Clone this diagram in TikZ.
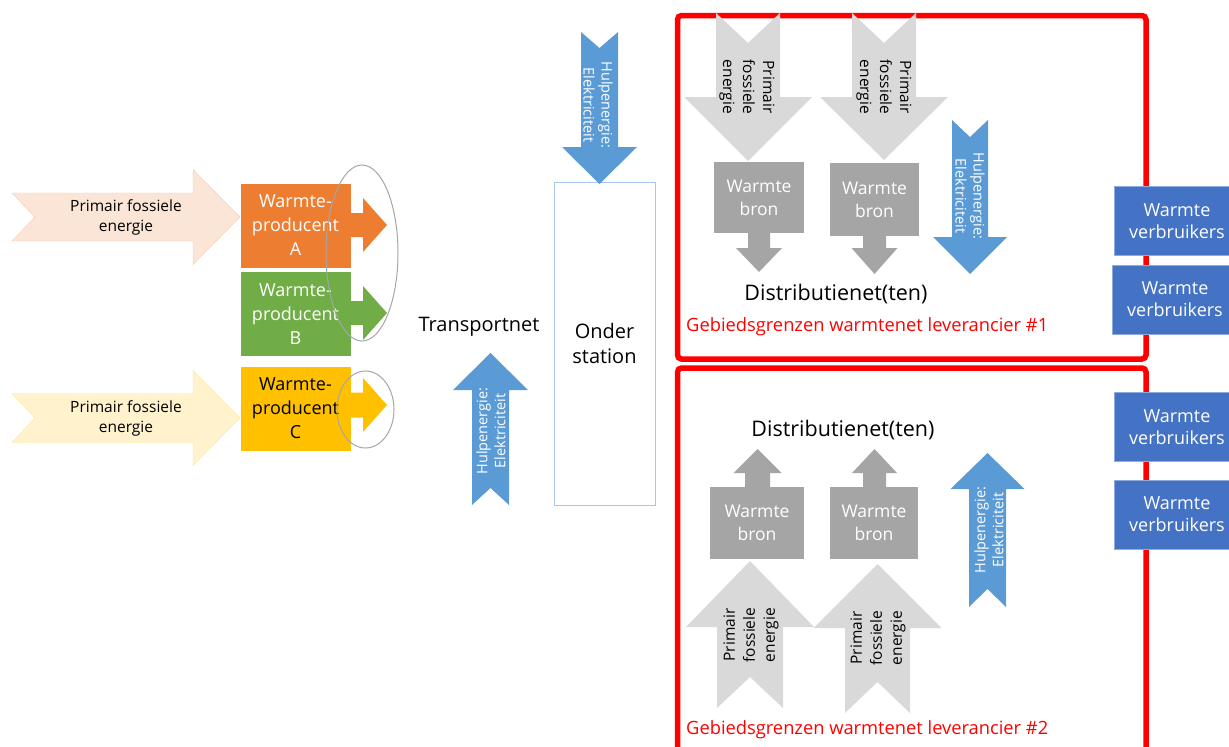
\documentclass[tikz,border=0pt]{standalone}
\usepackage{fontspec}
\setmainfont{Open Sans}
\usetikzlibrary{positioning}

\definecolor{peach}{HTML}{FBE5D6}
\definecolor{peachedge}{HTML}{F8CBAD}
\definecolor{cream}{HTML}{FFF2CC}
\definecolor{creamedge}{HTML}{FFE699}
\definecolor{prodA}{HTML}{ED7D31}
\definecolor{prodB}{HTML}{70AD47}
\definecolor{prodC}{HTML}{FFC000}
\definecolor{bron}{HTML}{A5A5A5}
\definecolor{fossiel}{HTML}{D9D9D9}
\definecolor{hulp}{HTML}{5B9BD5}
\definecolor{users}{HTML}{4472C4}
\definecolor{usersedge}{HTML}{8FAADC}
\definecolor{stationedge}{HTML}{A9C4EB}
\definecolor{ring}{HTML}{A6A6A6}

% style, tail, angle, length, half body, half head, head length, notch
\newcommand{\blockarrow}[8]{%
  \begin{scope}[shift={#2},rotate=#3]
    \path[#1] (0,-#5) -- ({#4-#7},-#5) -- ({#4-#7},-#6) -- (#4,0)
      -- ({#4-#7},#6) -- ({#4-#7},#5) -- (0,#5) -- (#8,0) -- cycle;
  \end{scope}}

\begin{document}
\begin{tikzpicture}[x=1pt,y=-1pt,
        every node/.style={inner sep=0pt,align=center},
        prodbox/.style={draw=white,minimum width=111pt,minimum height=85pt,font=\fontsize{18}{24}\selectfont},
        bronbox/.style={fill=bron,text=white,font=\fontsize{17.5}{23}\selectfont},
        userbox/.style={fill=users,draw=usersedge,text=white,minimum width=126pt,minimum height=69pt,font=\fontsize{18}{22}\selectfont},
        hulptext/.style={text=white,font=\fontsize{14.5}{18}\selectfont},
        fossieltext/.style={font=\fontsize{15.5}{20}\selectfont},
        netlabel/.style={font=\fontsize{20}{25}\selectfont},
        grenslabel/.style={text=red,anchor=west,font=\fontsize{18.3}{20}\selectfont},
        redline/.style={draw=red,line width=5.5pt,rounded corners=4pt},
        ringline/.style={draw=ring,line width=1pt}]
    \useasboundingbox (0,0) rectangle (1229,747);
    \clip (0,0) rectangle (1229,747);

    % producenten
    \blockarrow{fill=peach,draw=peachedge}{(12,217)}{0}{228}{24}{47.5}{47}{23}
    \blockarrow{fill=cream,draw=creamedge}{(12,418)}{0}{228}{24.5}{47.5}{47}{23}
    \node[fossieltext] (primA) at (126,217) {Primair fossiele\\energie};
    \node[fossieltext] (primC) at (126,418) {Primair fossiele\\energie};

    \node[prodbox,fill=prodA,text=white] (A) at (295.5,225.5) {Warmte-\\producent\\A};
    \node[prodbox,fill=prodB,text=white,below=3pt of A] (B) {Warmte-\\producent\\B};
    \node[prodbox,fill=prodC,below=9pt of B] (C) {Warmte-\\producent\\C};
    \blockarrow{fill=prodA}{(351,225)}{0}{36}{12}{27}{24}{0}
    \blockarrow{fill=prodB}{(351,313)}{0}{36}{12}{27}{24}{0}
    \blockarrow{fill=prodC}{(350,405)}{0}{37}{12.5}{27}{24}{0}
    \draw[ringline] (362,253) ellipse [x radius=36,y radius=88];
    \draw[ringline] (365.5,409.5) ellipse [x radius=28.5,y radius=38.5];

    % transport
    \node[netlabel] (transport) at (479,327) {Transportnet};
    \node[draw=stationedge,fill=white,minimum width=101pt,minimum height=323pt,font=\fontsize{20}{25}\selectfont] (station) at (604.5,343.5) {Onder\\station};
    \blockarrow{fill=hulp}{(599.5,32)}{-90}{152}{18.5}{37.5}{37}{16}
    \node[hulptext,rotate=-90] (hulpTop) at (598,105) {Hulpenergie:\\Elektriciteit};
    \blockarrow{fill=hulp}{(490.5,505)}{90}{152}{18.5}{37.5}{37}{17}
    \node[hulptext,rotate=90] (hulpMid) at (491,431) {Hulpenergie:\\Elektriciteit};

    % leverancier 1
    \draw[redline] (677.5,15.5) rectangle (1146,359);
    \draw[redline] (677.5,368) rectangle (1146,790);
    \blockarrow{fill=fossiel}{(748,13)}{-90}{148}{32}{64}{64}{30}
    \blockarrow{fill=fossiel}{(884,13)}{-90}{147}{32}{64}{63}{30}
    \node[fossieltext,rotate=-90] (fos11) at (747,87) {Primair\\fossiele\\energie};
    \node[fossieltext,rotate=-90] (fos12) at (884,87) {Primair\\fossiele\\energie};
    \node[bronbox,minimum width=90pt,minimum height=71pt] (bron11) at (759,197.5) {Warmte\\bron};
    \node[bronbox,minimum width=89pt,minimum height=73pt] (bron12) at (874.5,199.5) {Warmte\\bron};
    \blockarrow{fill=bron}{(759,233)}{-90}{39}{11}{23}{24}{0}
    \blockarrow{fill=bron}{(874.5,236)}{-90}{38}{11.5}{23}{26}{0}
    \blockarrow{fill=hulp}{(970,120)}{-90}{154}{18}{37}{37}{17}
    \node[hulptext,rotate=-90] (hulp1) at (970,196) {Hulpenergie:\\Elektriciteit};
    \node[netlabel,font=\fontsize{21.5}{25}\selectfont] (distr1) at (836,294) {Distributienet(ten)};
    \node[grenslabel] (grens1) at (686,327) {Gebiedsgrenzen warmtenet leverancier \#1};

    % leverancier 2
    \node[netlabel,font=\fontsize{21.5}{25}\selectfont] (distr2) at (843,430) {Distributienet(ten)};
    \blockarrow{fill=bron}{(757.5,487)}{90}{38}{12.5}{24}{24}{0}
    \blockarrow{fill=bron}{(874.5,487)}{90}{38}{11.5}{22.5}{24}{0}
    \node[bronbox,minimum width=94pt,minimum height=72pt] (bron21) at (757,523) {Warmte\\bron};
    \node[bronbox,minimum width=88pt,minimum height=72pt] (bron22) at (874,523) {Warmte\\bron};
    \blockarrow{fill=fossiel}{(750,708)}{90}{147}{33}{64}{66}{31}
    \blockarrow{fill=fossiel}{(877.5,713)}{90}{149}{32.5}{64}{64}{31}
    \node[fossieltext,rotate=90] (fos21) at (751,635) {Primair\\fossiele\\energie};
    \node[fossieltext,rotate=90] (fos22) at (878,638) {Primair\\fossiele\\energie};
    \blockarrow{fill=hulp}{(987.5,607)}{90}{154}{18.5}{37}{36}{18}
    \node[hulptext,rotate=90] (hulp2) at (989,530) {Hulpenergie:\\Elektriciteit};
    \node[grenslabel] (grens2) at (686,730) {Gebiedsgrenzen warmtenet leverancier \#2};

    % verbruikers
    \node[userbox] (users1) at (1177,221) {Warmte\\verbruikers};
    \node[userbox,below=9pt of users1,xshift=-2pt] (users2) {Warmte\\verbruikers};
    \node[userbox] (users3) at (1177,427) {Warmte\\verbruikers};
    \node[userbox,below=18pt of users3] (users4) {Warmte\\verbruikers};
\end{tikzpicture}
\end{document}
